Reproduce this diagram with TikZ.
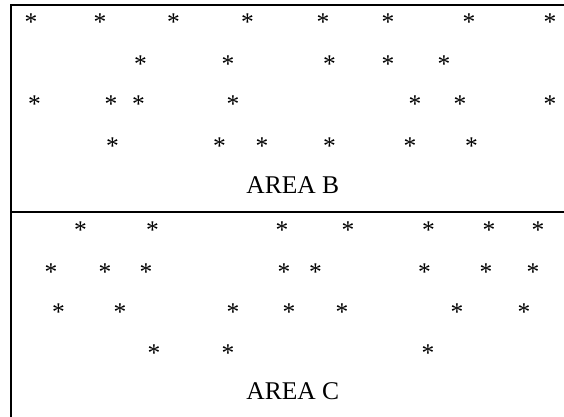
\documentclass[tikz,border=0pt]{standalone}
\usepackage{fontspec}
\setmainfont{Liberation Serif}
\begin{document}
\begin{tikzpicture}[x=1pt,y=-1pt,
  star/.style={inner sep=0pt,anchor=base,font=\fontsize{25.5}{26}\selectfont},
  area/.style={inner sep=0pt,anchor=base,font=\fontsize{25.5}{26}\selectfont},
  frame/.style={line width=2.2pt,black}]
\useasboundingbox (0,0) rectangle (564,416);
% frame
\draw[frame] (566,5) -- (11,5) -- (11,418);
\draw[frame] (11,212) -- (566,212);
% AREA B asterisks
\foreach \x [count=\i] in {31,100,173.5,247.5,323,388,469,550}
  \node[star] (bA\i) at (\x,30.4) {*};
\foreach \x [count=\i] in {140.5,228,329.5,388,444}
  \node[star] (bB\i) at (\x,72.4) {*};
\foreach \x [count=\i] in {34.5,111,138.5,233,415,460,550}
  \node[star] (bC\i) at (\x,112.4) {*};
\foreach \x [count=\i] in {112.5,219.5,262,329.5,410,471.5}
  \node[star] (bD\i) at (\x,154.4) {*};
\node[area] (areaB) at (292.8,193.3) {AREA B};
% AREA C asterisks
\foreach \x [count=\i] in {80.5,152.5,282,348,428.5,489,538}
  \node[star] (cA\i) at (\x,238.4) {*};
\foreach \x [count=\i] in {51,105,146,284,315.5,424.5,486,533}
  \node[star] (cB\i) at (\x,280.1) {*};
\foreach \x [count=\i] in {58.5,120,233,289,342,457,524}
  \node[star] (cC\i) at (\x,320.1) {*};
\foreach \x [count=\i] in {154,228,428}
  \node[star] (cD\i) at (\x,361.7) {*};
\node[area] (areaC) at (292.8,399.3) {AREA C};
\end{tikzpicture}
\end{document}
